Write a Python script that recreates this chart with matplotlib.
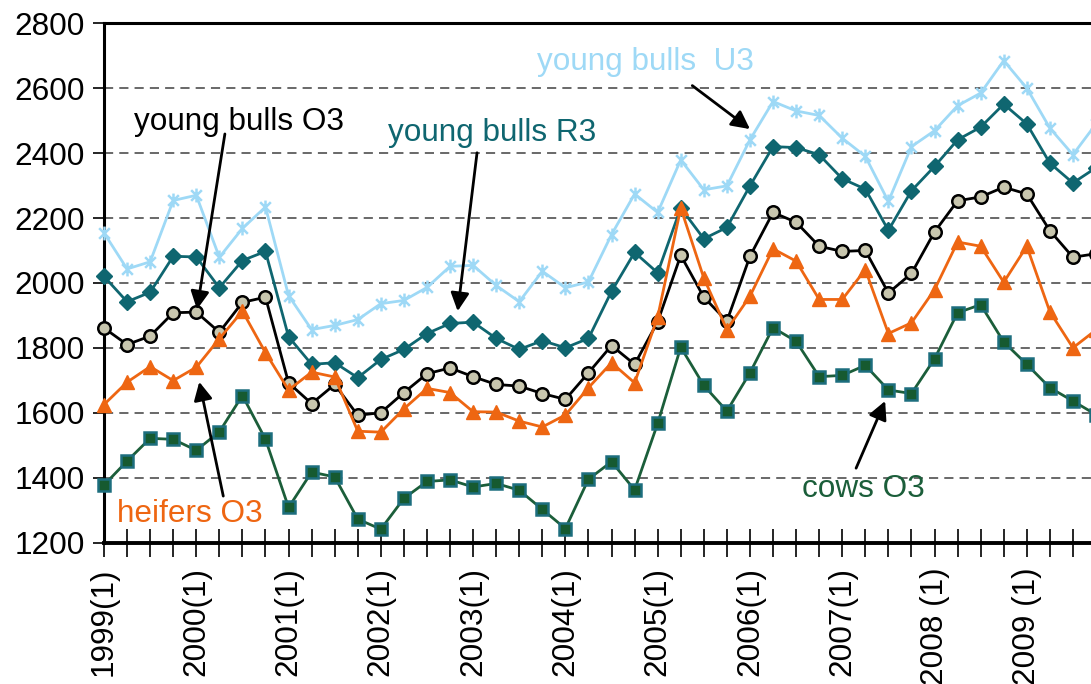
import matplotlib
matplotlib.use("Agg")
import matplotlib.pyplot as plt
from matplotlib.path import Path

# quarterly prices 1999(1) .. 2009(4)
quarters = []
for yr in range(1999, 2010):
    for q in range(1, 5):
        quarters.append("%d(%d)" % (yr, q))

young_bulls_u3 = [2154, 2043, 2065, 2254, 2270, 2079, 2168, 2234, 1961, 1856, 1869, 1887,
                  1936, 1946, 1986, 2051, 2054, 1992, 1942, 2036, 1985, 2003, 2149, 2274,
                  2217, 2379, 2287, 2299, 2441, 2559, 2530, 2516, 2446, 2390, 2251, 2420,
                  2469, 2546, 2585, 2685, 2600, 2477, 2395, 2490]
young_bulls_r3 = [2020, 1942, 1971, 2082, 2080, 1985, 2069, 2097, 1834, 1749, 1754, 1708,
                  1764, 1795, 1844, 1875, 1879, 1829, 1795, 1822, 1800, 1829, 1974, 2094,
                  2031, 2231, 2136, 2171, 2299, 2420, 2417, 2395, 2321, 2289, 2162, 2284,
                  2359, 2441, 2480, 2551, 2490, 2369, 2308, 2355]
young_bulls_o3 = [1861, 1810, 1836, 1908, 1910, 1848, 1940, 1956, 1692, 1628, 1687, 1592,
                  1600, 1662, 1720, 1738, 1711, 1687, 1682, 1659, 1641, 1723, 1807, 1749,
                  1880, 2085, 1956, 1882, 2082, 2217, 2187, 2113, 2097, 2100, 1969, 2029,
                  2157, 2253, 2265, 2295, 2274, 2161, 2079, 2090]
heifers_o3 = [1625, 1694, 1742, 1699, 1740, 1828, 1913, 1785, 1670, 1725, 1710, 1543,
              1540, 1612, 1675, 1662, 1603, 1602, 1574, 1556, 1593, 1677, 1754, 1692,
              1895, 2231, 2015, 1856, 1959, 2105, 2067, 1949, 1949, 2041, 1844, 1877,
              1979, 2126, 2113, 2002, 2113, 1911, 1800, 1855]
cows_o3 = [1377, 1451, 1521, 1518, 1484, 1541, 1653, 1518, 1308, 1417, 1402, 1272,
           1241, 1336, 1388, 1393, 1371, 1382, 1361, 1302, 1243, 1395, 1449, 1362,
           1567, 1802, 1684, 1605, 1723, 1862, 1820, 1711, 1715, 1746, 1670, 1659,
           1766, 1908, 1933, 1818, 1749, 1677, 1636, 1594]

# tick labels shown once a year (first quarter)
xlabels = ["1999(1)", "2000(1)", "2001(1)", "2002(1)", "2003(1)", "2004(1)",
           "2005(1)", "2006(1)", "2007(1)", "2008 (1)", "2009 (1)"]

plt.rcParams['font.family'] = ['Liberation Sans', 'DejaVu Sans']
FS = 22.7

# excel-like star marker: an x plus a vertical bar
star = Path([(-1, -1), (1, 1), (-1, 1), (1, -1), (0, -1.3), (0, 1.3)],
            [Path.MOVETO, Path.LINETO, Path.MOVETO, Path.LINETO, Path.MOVETO, Path.LINETO])

fig = plt.figure(figsize=(10.91, 6.84), dpi=100)
# plot area runs past the right edge of the picture (cropped like the original)
ax = fig.add_axes([104 / 1091, 141.5 / 684, 44 * 23.07 / 1091, 519.2 / 684])

x = list(range(len(quarters)))
lw = 2.0
ax.plot(x, young_bulls_u3, color="#9ED9F6", lw=lw, marker=star, ms=10, mew=1.8,
        clip_on=False, zorder=3)
ax.plot(x, young_bulls_r3, color="#0F6670", lw=lw, marker="D", ms=8,
        clip_on=False, zorder=3)
ax.plot(x, young_bulls_o3, color="black", lw=lw, marker="o", ms=9, mfc="#C8C6AE",
        mec="black", mew=1.8, clip_on=False, zorder=3)
ax.plot(x, heifers_o3, color="#EE6612", lw=lw, marker="^", ms=10,
        clip_on=False, zorder=3)
ax.plot(x, cows_o3, color="#1B5E3A", lw=lw, marker="s", ms=8.5, mfc="#165A30",
        mec="#1D6E7E", mew=1.8, clip_on=False, zorder=3)

ax.set_xlim(0, 44)
ax.set_ylim(1200, 2800)
ax.set_yticks(range(1200, 2801, 200))
ax.yaxis.grid(True, linestyle=(0, (6, 4)), color="#404040", lw=1.1)
ax.set_axisbelow(True)

ax.set_xticks(x)
ax.set_xticklabels([xlabels[i // 4] if i % 4 == 0 else "" for i in x],
                   rotation=90, fontsize=FS)
ax.tick_params(axis="x", direction="inout", length=20, width=1.2, pad=8)
ax.tick_params(axis="y", direction="out", length=8, width=1.2, labelsize=FS, pad=6)

ax.spines["left"].set_linewidth(2.2)
ax.spines["bottom"].set_linewidth(2.8)
ax.spines["top"].set_linewidth(2.2)
ax.spines["right"].set_visible(False)

arrow = dict(arrowstyle="-|>,head_length=0.55,head_width=0.28", color="black", lw=2,
             mutation_scale=20, shrinkA=0, shrinkB=0)

ax.text(5.85, 2496, "young bulls O3", color="black", fontsize=FS, ha="center", va="center")
ax.annotate("", xy=(4.03, 1918), xytext=(5.24, 2459), arrowprops=arrow)

ax.text(16.82, 2462, "young bulls R3", color="#0F6670", fontsize=FS, ha="center", va="center")
ax.annotate("", xy=(15.33, 1913), xytext=(16.17, 2401), arrowprops=arrow)

ax.text(23.49, 2681, "young bulls  U3", color="#9ED9F6", fontsize=FS, ha="center", va="center")
ax.annotate("", xy=(28.0, 2474), xytext=(25.5, 2608), arrowprops=arrow)

ax.text(3.71, 1287, "heifers O3", color="#EE6612", fontsize=FS, ha="center", va="center")
ax.annotate("", xy=(4.13, 1695), xytext=(5.17, 1343), arrowprops=arrow)

ax.text(32.9, 1364, "cows O3", color="#1B5E3A", fontsize=FS, ha="center", va="center")
ax.annotate("", xy=(33.86, 1636), xytext=(32.6, 1429), arrowprops=arrow)

fig.savefig("out.png", dpi=100)
